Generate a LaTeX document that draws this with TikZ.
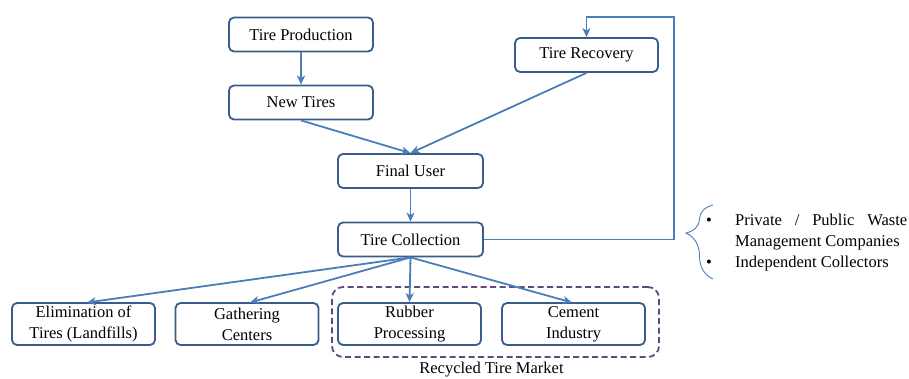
\documentclass[tikz,border=0pt]{standalone}
\usepackage{fontspec}
\setmainfont{Liberation Serif}
\usetikzlibrary{arrows.meta,decorations.pathreplacing}
\definecolor{boxblue}{RGB}{56,93,138}
\definecolor{arrblue}{RGB}{74,126,187}
\definecolor{mktpurple}{RGB}{96,74,123}
\tikzset{
  flowbox/.style={draw=boxblue, line width=1.8pt, rounded corners=5pt, fill=white,
    minimum width=144pt, minimum height=34pt, font=\fontsize{16.5}{21}\selectfont, align=center, inner sep=2pt},
  leafbox/.style={flowbox, minimum width=143pt, minimum height=42pt},
  conn/.style={draw=arrblue, line width=1.8pt, -{Stealth[length=9pt,width=8pt,inset=2.5pt]}},
  plain/.style={font=\fontsize{16.5}{21}\selectfont, anchor=base west, inner sep=0pt}
}
\begin{document}
\begin{tikzpicture}[x=1pt,y=-1pt]
\useasboundingbox (0,0) rectangle (909,378);
\node[flowbox] (prod) at (301,34.5) {Tire Production};
\node[flowbox] (new) at (301,102.5) {New Tires};
\node[flowbox, minimum width=143pt] (rec) at (586.5,55) {Tire Recovery};
\node[flowbox, minimum width=145pt] (user) at (410.5,171) {Final User};
\node[flowbox, minimum width=145pt] (coll) at (410.5,239.5) {Tire Collection};
\node[leafbox] (elim) at (83.5,324) {Elimination of\\Tires (Landfills)};
\node[leafbox] (gath) at (247,324) {Gathering\\Centers};
\node[leafbox] (rubb) at (409.5,324) {Rubber\\Processing};
\node[leafbox] (cem) at (573.5,324) {Cement\\Industry};
\node[draw=mktpurple, line width=1.8pt, dash pattern=on 6pt off 3.5pt, rounded corners=11pt,
  minimum width=327pt, minimum height=70pt] (mkt) at (495.5,322) {};
\node[font=\fontsize{16.5}{21}\selectfont] (mktlbl) at (491.5,370) {Recycled Tire Market};
\coordinate (c1) at (674,239.5);
\coordinate (c2) at (674,17);
\coordinate (c3) at (586.5,17);
\draw[conn] (prod) -- (new);
\draw[conn] (new.south) -- (user.north);
\draw[conn] (rec.south) -- (user.north);
\draw[conn] (user) -- (coll);
\draw[conn] (coll.east) -- (c1) -- (c2) -- (c3) -- (rec.north);
\draw[conn] (coll.south) -- (87,302.5);
\draw[conn] (coll.south) -- (250,302.5);
\draw[conn] (coll.south) -- (rubb.north);
\draw[conn] (coll.south) -- (572,302.5);
\draw[arrblue, line width=0.9pt, decorate, decoration={brace, amplitude=27pt, aspect=0.62}] (713,279) -- (713,205) coordinate (br);
\node[plain] (b1) at (706,225) {•};
\node[plain] (b2) at (706,267) {•};
\node[plain] (t1) at (735,225) {\makebox[172pt][s]{Private / Public Waste}};
\node[plain] (t2) at (735,246) {Management Companies};
\node[plain] (t3) at (735,267) {Independent Collectors};
\end{tikzpicture}
\end{document}
